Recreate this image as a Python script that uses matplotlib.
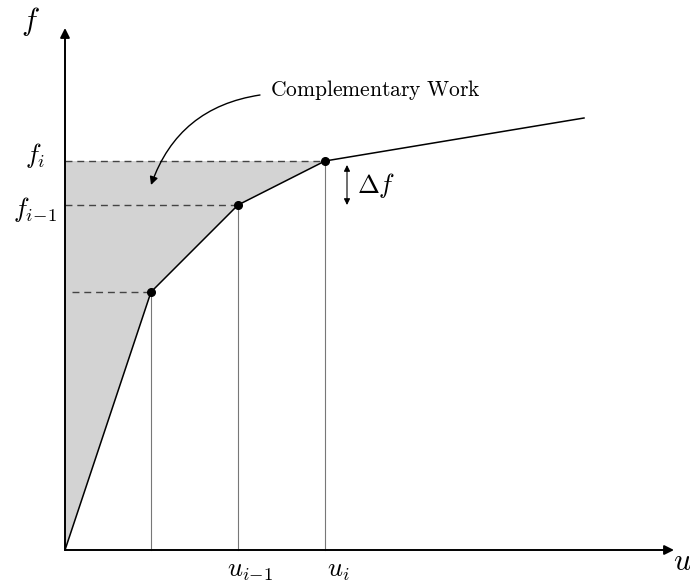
import numpy as np
import matplotlib
matplotlib.use('Agg')
from matplotlib import pyplot as plt

plt.rcParams['mathtext.fontset'] = 'cm'

# load-displacement curve (u, f), origin at the axis corner
u_pts = [0, 86, 173, 260, 519]
f_pts = [0, 258, 345, 389, 432]
# points marked on the curve
u_marks = [86, 173, 260]
f_marks = [258, 345, 389]

fig = plt.figure(figsize=(6.9, 5.83), dpi=100)
ax = fig.add_axes([0, 0, 1, 1])
ax.set_xlim(-65, 625)
ax.set_ylim(-33, 550)
ax.axis('off')

# complementary work area (left of the curve, below f_i)
fill_u = [0, 0] + u_pts[3:0:-1] + [0]
fill_f = [0, f_pts[3]] + f_pts[3:0:-1] + [0]
ax.fill(fill_u, fill_f, color='#d3d3d3', lw=0, zorder=1)

# axes with arrowheads
ax.annotate('', xy=(0, 522), xytext=(0, 0),
            arrowprops=dict(arrowstyle='-|>', color='black', lw=1.4,
                            mutation_scale=14, shrinkA=0, shrinkB=0))
ax.annotate('', xy=(609, 0), xytext=(0, 0),
            arrowprops=dict(arrowstyle='-|>', color='black', lw=1.4,
                            mutation_scale=14, shrinkA=0, shrinkB=0))

# dashed projections to the f axis
ax.plot([0, u_marks[2]], [f_marks[2], f_marks[2]], '--', color='#444444', lw=1.0, dashes=(5, 3.5), zorder=2)
ax.plot([0, u_marks[1]], [f_marks[1], f_marks[1]], '--', color='#444444', lw=1.0, dashes=(5, 3.5), zorder=2)
ax.plot([7, u_marks[0]], [f_marks[0], f_marks[0]], '--', color='#444444', lw=1.0, dashes=(5, 3.5), zorder=2)

# thin drops to the u axis
for um, fm in zip(u_marks, f_marks):
    ax.plot([um, um], [0, fm], color='#777777', lw=0.8, zorder=2)

ax.plot(u_pts, f_pts, color='black', lw=1.1, zorder=3)
ax.plot(u_marks, f_marks, 'o', color='black', ms=5.5, zorder=4)

# labels
ax.text(-35, 528, r'$f$', fontsize=22, ha='center', va='center')
ax.text(-30, 395, r'$f_i$', fontsize=19, ha='center', va='center')
ax.text(-30, 340, r'$f_{i\!-\!1}$', fontsize=19, ha='center', va='center')
ax.text(185, -20, r'$u_{i\!-\!1}$', fontsize=19, ha='center', va='center')
ax.text(273, -20, r'$u_i$', fontsize=19, ha='center', va='center')
ax.text(617, -12, r'$u$', fontsize=22, ha='center', va='center')

# delta f marker
ax.annotate('', xy=(282, 345), xytext=(282, 385),
            arrowprops=dict(arrowstyle='<|-|>', color='black', lw=0.8,
                            mutation_scale=9, shrinkA=0, shrinkB=0))
ax.text(292, 364, r'$\Delta f$', fontsize=19, ha='left', va='center')

# complementary work callout
ax.text(310, 460, r'$\mathrm{Complementary\ Work}$', fontsize=15.5, ha='center', va='center')
ax.annotate('', xy=(86, 365), xytext=(195, 455),
            arrowprops=dict(arrowstyle='-|>', color='black', lw=1.0,
                            mutation_scale=12, shrinkA=0, shrinkB=0,
                            connectionstyle='arc3,rad=0.3'))

plt.savefig('out.png', dpi=100)
